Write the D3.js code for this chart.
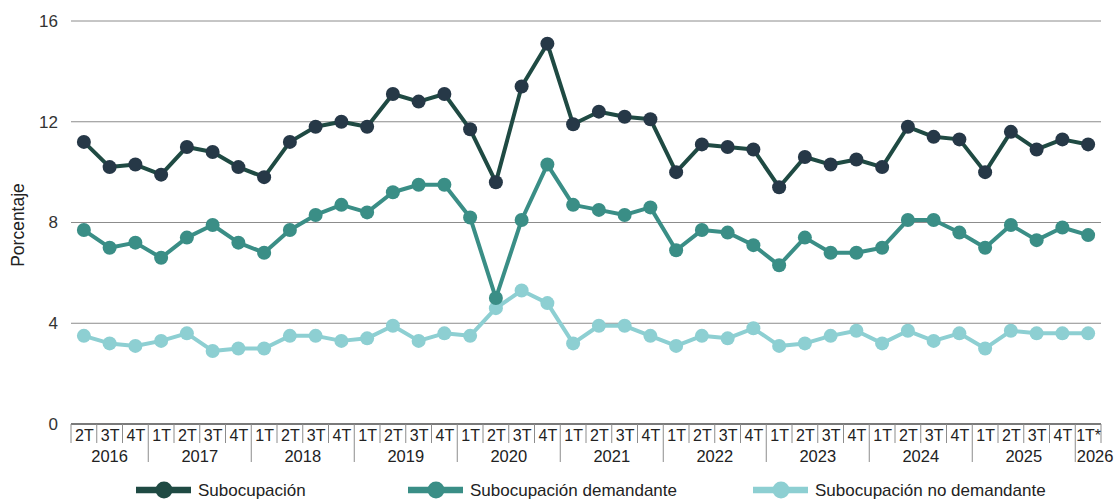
<!DOCTYPE html>
<html>
<head>
<meta charset="utf-8">
<script src="https://cdn.jsdelivr.net/npm/d3@7"></script>
<style>
  html, body { margin: 0; padding: 0; background: #fff; }
  svg { display: block; font-family: "Liberation Sans", Arial, Helvetica, sans-serif; }
</style>
</head>
<body>
<svg id="chart" width="1117" height="500"></svg>
<script>
const quarters = ["2T","3T","4T",
  "1T","2T","3T","4T", "1T","2T","3T","4T", "1T","2T","3T","4T",
  "1T","2T","3T","4T", "1T","2T","3T","4T", "1T","2T","3T","4T",
  "1T","2T","3T","4T", "1T","2T","3T","4T", "1T","2T","3T","4T", "1T*"];
const years = ["2016","2016","2016",
  "2017","2017","2017","2017", "2018","2018","2018","2018", "2019","2019","2019","2019",
  "2020","2020","2020","2020", "2021","2021","2021","2021", "2022","2022","2022","2022",
  "2023","2023","2023","2023", "2024","2024","2024","2024", "2025","2025","2025","2025", "2026"];

const subocupacion = [11.2,10.2,10.3, 9.9,11.0,10.8,10.2, 9.8,11.2,11.8,12.0, 11.8,13.1,12.8,13.1,
  11.7,9.6,13.4,15.1, 11.9,12.4,12.2,12.1, 10.0,11.1,11.0,10.9, 9.4,10.6,10.3,10.5,
  10.2,11.8,11.4,11.3, 10.0,11.6,10.9,11.3, 11.1];
const demandante = [7.7,7.0,7.2, 6.6,7.4,7.9,7.2, 6.8,7.7,8.3,8.7, 8.4,9.2,9.5,9.5,
  8.2,5.0,8.1,10.3, 8.7,8.5,8.3,8.6, 6.9,7.7,7.6,7.1, 6.3,7.4,6.8,6.8,
  7.0,8.1,8.1,7.6, 7.0,7.9,7.3,7.8, 7.5];
const noDemandante = [3.5,3.2,3.1, 3.3,3.6,2.9,3.0, 3.0,3.5,3.5,3.3, 3.4,3.9,3.3,3.6,
  3.5,4.6,5.3,4.8, 3.2,3.9,3.9,3.5, 3.1,3.5,3.4,3.8, 3.1,3.2,3.5,3.7,
  3.2,3.7,3.3,3.6, 3.0,3.7,3.6,3.6, 3.6];
const yTicks = [0, 4, 8, 12, 16];
const seriesNames = ["Subocupación", "Subocupación demandante", "Subocupación no demandante"];

const series = [
  { name: seriesNames[0], values: subocupacion, line: "#1f4a43", dot: "#263847" },
  { name: seriesNames[1], values: demandante, line: "#3a8e86", dot: "#3a8e86" },
  { name: seriesNames[2], values: noDemandante, line: "#8dcfd2", dot: "#8dcfd2" }
];

const svg = d3.select("#chart");
const mLeft = 71, mRight = 1101, mTop = 21, mBottom = 424;

const x = d3.scaleBand().domain(d3.range(quarters.length)).range([mLeft, mRight]).padding(0);
const y = d3.scaleLinear().domain([0, 16]).range([mBottom, mTop]);

// gridlines
svg.append("g").selectAll("line").data(yTicks.filter(d => d > 0)).join("line")
  .attr("x1", mLeft).attr("x2", mRight)
  .attr("y1", d => y(d)).attr("y2", d => y(d))
  .attr("stroke", "#8c8c8c").attr("stroke-width", 1);

// baseline
svg.append("line").attr("x1", mLeft).attr("x2", mRight)
  .attr("y1", y(0)).attr("y2", y(0))
  .attr("stroke", "#7a7a7a").attr("stroke-width", 2);

// y labels
svg.append("g").selectAll("text").data(yTicks).join("text")
  .attr("x", 58).attr("y", d => y(d)).attr("dy", "0.35em")
  .attr("text-anchor", "end").attr("font-size", 17).attr("fill", "#333")
  .text(d => d);

svg.append("text")
  .attr("transform", "translate(24,225) rotate(-90)")
  .attr("text-anchor", "middle").attr("font-size", 17.5).attr("fill", "#222")
  .text("Porcentaje");

// x axis: quarter separators
const xa = svg.append("g");
const bounds = d3.range(quarters.length + 1);
bounds.forEach(i => {
  const bx = i < quarters.length ? x(i) : x(quarters.length - 1) + x.bandwidth();
  const isYear = i > 0 && i < quarters.length && years[i] !== years[i - 1];
  xa.append("line")
    .attr("x1", bx).attr("x2", bx)
    .attr("y1", mBottom).attr("y2", isYear ? 462 : 443)
    .attr("stroke", "#8c8c8c").attr("stroke-width", 1);
});
xa.selectAll("text.q").data(quarters).join("text").attr("class", "q")
  .attr("x", (d, i) => x(i) + x.bandwidth() / 2 + 0.5).attr("y", 435).attr("dy", "0.35em")
  .attr("text-anchor", "middle").attr("font-size", 16).attr("fill", "#222")
  .text(d => d);

// year labels
const groups = d3.groups(years.map((yr, i) => ({ yr, i })), d => d.yr);
groups.forEach(([yr, items]) => {
  const x0 = x(items[0].i), x1 = x(items[items.length - 1].i) + x.bandwidth();
  const t = xa.append("text").attr("y", 456).attr("dy", "0.35em")
    .attr("font-size", 16.5).attr("fill", "#222").text(yr);
  const w = t.node().getComputedTextLength();
  if (w + 4 > x1 - x0) {
    t.attr("x", x0 + 1.5).attr("text-anchor", "start");
  } else {
    t.attr("x", (x0 + x1) / 2).attr("text-anchor", "middle");
  }
});

// lines and dots
const line = d3.line().x((d, i) => x(i) + x.bandwidth() / 2).y(d => y(d));
series.slice().reverse().forEach(s => {
  const g = svg.append("g");
  g.append("path").datum(s.values).attr("d", line)
    .attr("fill", "none").attr("stroke", s.line).attr("stroke-width", 4)
    .attr("stroke-linejoin", "round");
  g.selectAll("circle").data(s.values).join("circle")
    .attr("cx", (d, i) => x(i) + x.bandwidth() / 2).attr("cy", d => y(d))
    .attr("r", 7).attr("fill", s.dot);
});

// legend
const legendX = [136, 408, 753];
const lg = svg.append("g");
series.forEach((s, i) => {
  const lx = legendX[i], ly = 490;
  lg.append("line").attr("x1", lx).attr("x2", lx + 55).attr("y1", ly).attr("y2", ly)
    .attr("stroke", s.line).attr("stroke-width", 6.5);
  lg.append("circle").attr("cx", lx + 28).attr("cy", ly).attr("r", 8.5).attr("fill", s.line);
  lg.append("text").attr("x", lx + 62).attr("y", ly).attr("dy", "0.35em")
    .attr("font-size", 17).attr("fill", "#222").text(s.name);
});
</script>
</body>
</html>
